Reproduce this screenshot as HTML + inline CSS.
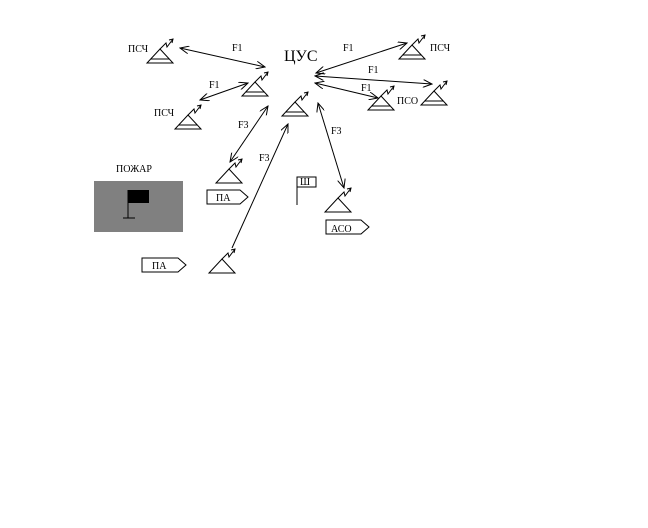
<!DOCTYPE html>
<html><head><meta charset="utf-8"><style>
html,body{margin:0;padding:0;background:#fff;}
svg{display:block;}
text{font-family:"Liberation Serif",serif;font-size:10px;fill:#000;}
</style></head><body>
<svg width="648" height="528" viewBox="0 0 648 528" xmlns="http://www.w3.org/2000/svg">
<defs>
<marker id="ah" markerWidth="10" markerHeight="8" refX="9" refY="4" orient="auto-start-reverse" markerUnits="userSpaceOnUse">
<path d="M0,0 L9,4 L0,8" fill="none" stroke="#000" stroke-width="1"/>
</marker>
<g id="ant"><polyline points="0,0 6,-6 7,-2 13,-10" fill="none" stroke="#000" stroke-width="1"/><path d="M9,-9 L13,-10 L12,-6" fill="none" stroke="#000"/></g>
<g id="tri"><path d="M0,0 L-13,14 L13,14 Z" fill="none" stroke="#000"/><line x1="-9" y1="10" x2="9" y2="10" stroke="#000"/><use href="#ant"/></g>
<g id="tri2"><path d="M0,0 L-13,14 L13,14 Z" fill="none" stroke="#000"/><use href="#ant"/></g>
</defs>
<g stroke="#000" stroke-width="1" fill="none">
<use href="#tri" x="160" y="49"/>
<use href="#tri" x="188" y="115"/>
<use href="#tri" x="255" y="82"/>
<use href="#tri" x="295" y="102"/>
<use href="#tri" x="412" y="45"/>
<use href="#tri" x="434" y="91"/>
<use href="#tri" x="381" y="96"/>
<use href="#tri2" x="338" y="198"/>
<use href="#tri2" x="229" y="169"/>
<use href="#tri2" x="222" y="259"/>
<line x1="180" y1="48" x2="265" y2="67" marker-start="url(#ah)" marker-end="url(#ah)"/>
<line x1="200" y1="100" x2="248" y2="83" marker-start="url(#ah)" marker-end="url(#ah)"/>
<line x1="268" y1="106" x2="230" y2="162" marker-start="url(#ah)" marker-end="url(#ah)"/>
<line x1="232" y1="248" x2="288" y2="124" marker-end="url(#ah)"/>
<line x1="318" y1="103" x2="344" y2="188" marker-start="url(#ah)" marker-end="url(#ah)"/>
<line x1="316" y1="73" x2="407" y2="43" marker-start="url(#ah)" marker-end="url(#ah)"/>
<line x1="315" y1="76" x2="432" y2="84" marker-start="url(#ah)" marker-end="url(#ah)"/>
<line x1="315" y1="83" x2="378" y2="98" marker-start="url(#ah)" marker-end="url(#ah)"/>
</g>
<rect x="94" y="181" width="89" height="51" fill="#808080"/>
<line x1="128" y1="190" x2="128" y2="218" stroke="#000"/>
<line x1="123" y1="218" x2="135" y2="218" stroke="#000"/>
<rect x="128" y="190" width="21" height="13" fill="#000"/>
<g fill="#fff" stroke="#000">
<path d="M207,190 H240 L248,197 L240,204 H207 Z"/>
<path d="M142,258 H178 L186,265 L178,272 H142 Z"/>
<path d="M326,220 H361 L369,227 L361,234 H326 Z"/>
<rect x="297" y="177" width="19" height="10"/>
</g>
<line x1="297" y1="187" x2="297" y2="205" stroke="#000"/>
<text x="284" y="61" style="font-size:16px">ЦУС</text>
<text x="128" y="52">ПСЧ</text>
<text x="154" y="116">ПСЧ</text>
<text x="430" y="51">ПСЧ</text>
<text x="397" y="104">ПСО</text>
<text x="116" y="172">ПОЖАР</text>
<text x="216" y="201">ПА</text>
<text x="152" y="269">ПА</text>
<text x="331" y="232">АСО</text>
<text x="300" y="185">Ш</text>
<text x="232" y="51">F1</text>
<text x="209" y="88">F1</text>
<text x="238" y="128">F3</text>
<text x="259" y="161">F3</text>
<text x="331" y="134">F3</text>
<text x="343" y="51">F1</text>
<text x="368" y="73">F1</text>
<text x="361" y="91">F1</text>
</svg>
</body></html>
